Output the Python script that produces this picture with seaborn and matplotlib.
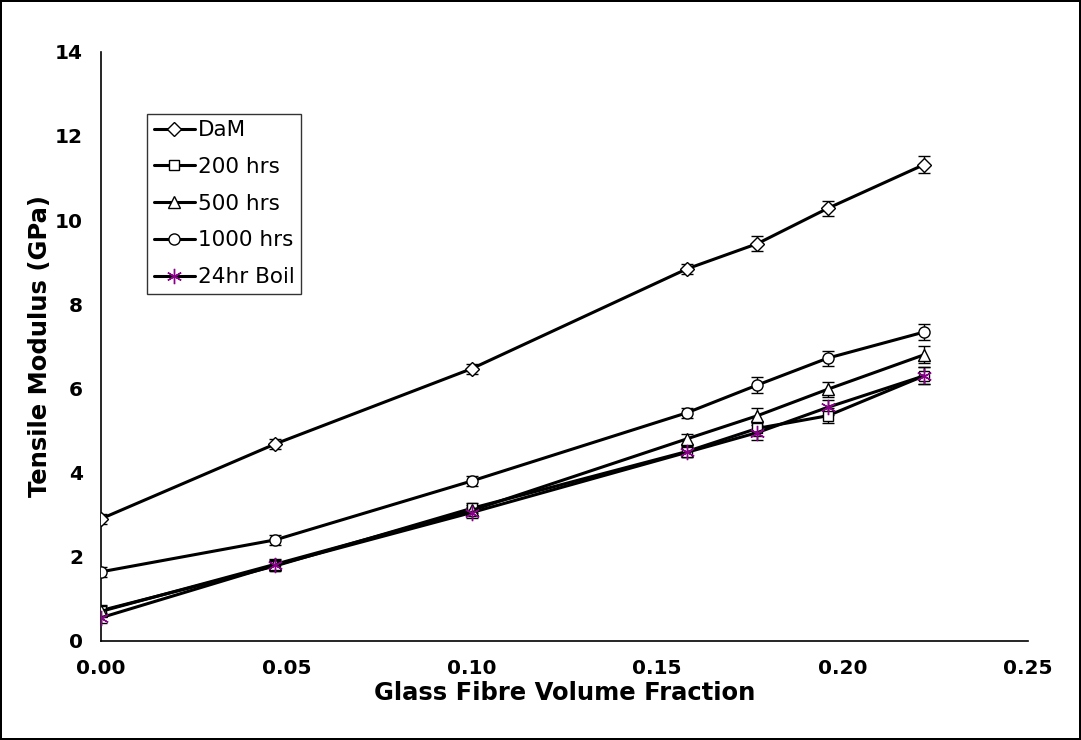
import matplotlib
matplotlib.use("Agg")
import matplotlib.pyplot as plt
import pandas as pd
import seaborn as sns

# glass fibre volume fraction
vf = [0.0, 0.047, 0.100, 0.158, 0.177, 0.196, 0.222]

dam = [2.90, 4.68, 6.47, 8.84, 9.44, 10.28, 11.32]
hrs200 = [0.72, 1.78, 3.15, 4.50, 5.05, 5.35, 6.30]
hrs500 = [0.70, 1.82, 3.10, 4.80, 5.35, 5.98, 6.80]
hrs1000 = [1.64, 2.40, 3.80, 5.42, 6.08, 6.72, 7.34]
boil24 = [0.55, 1.80, 3.05, 4.48, 4.95, 5.55, 6.30]

err = [0.12, 0.12, 0.12, 0.12, 0.18, 0.18, 0.20]

series = [
    ("DaM", dam, "D", "black", 7),
    ("200 hrs", hrs200, "s", "black", 7),
    ("500 hrs", hrs500, "^", "black", 8),
    ("1000 hrs", hrs1000, "o", "black", 8),
    ("24hr Boil", boil24, (6, 2, 0), "#8b008b", 11),
]

sns.set_style("white")
plt.rcParams["font.family"] = ["DejaVu Sans"]
plt.rcParams["text.color"] = "black"
plt.rcParams["axes.labelcolor"] = "black"
plt.rcParams["xtick.color"] = "black"
plt.rcParams["ytick.color"] = "black"

fig = plt.figure(figsize=(10.81, 7.40), dpi=100)
fig.patch.set_edgecolor("black")
fig.patch.set_linewidth(1.5)
ax = fig.add_axes([0.0934, 0.134, 0.8576, 0.796])

for name, vals, mk, mcol, ms in series:
    df = pd.DataFrame({"vf": vf, "E": vals})
    ax.errorbar(df["vf"], df["E"], yerr=err, fmt="none", ecolor="black",
                elinewidth=1, capsize=4, zorder=2)
    sns.lineplot(data=df, x="vf", y="E", ax=ax, color="black", linewidth=2.2,
                 marker=mk, markersize=ms, markerfacecolor="white" if mk != (6, 2, 0) else mcol,
                 markeredgecolor=mcol, markeredgewidth=1, label=name, zorder=3)

ax.set_xlim(0, 0.25)
ax.set_ylim(0, 14)
ax.set_xticks([0.0, 0.05, 0.10, 0.15, 0.20, 0.25])
ax.set_xticklabels(["0.00", "0.05", "0.10", "0.15", "0.20", "0.25"])
ax.set_yticks(range(0, 15, 2))
ax.tick_params(direction="in", length=6, width=1.2, labelsize=14.5, pad=13,
               colors="black")
for lab in ax.get_xticklabels() + ax.get_yticklabels():
    lab.set_fontweight("bold")
ax.set_xlabel("Glass Fibre Volume Fraction", fontsize=17.5, fontweight="heavy",
              labelpad=2, color="black")
ax.set_ylabel("Tensile Modulus (GPa)", fontsize=17.5, fontweight="heavy",
              labelpad=2, color="black")

for side in ["top", "right"]:
    ax.spines[side].set_visible(False)
for side in ["left", "bottom"]:
    ax.spines[side].set_color("black")
    ax.spines[side].set_linewidth(1.2)

leg = ax.legend(loc="upper left", bbox_to_anchor=(0.05, 0.895), frameon=True,
                fancybox=False, edgecolor="black", fontsize=15.5, handlelength=1.9,
                handletextpad=0.15, borderpad=0.3, labelspacing=0.78, borderaxespad=0)
leg.get_frame().set_linewidth(1.0)
for t in leg.get_texts():
    t.set_color("black")

fig.savefig("out.png", dpi=100, edgecolor=fig.get_edgecolor())
